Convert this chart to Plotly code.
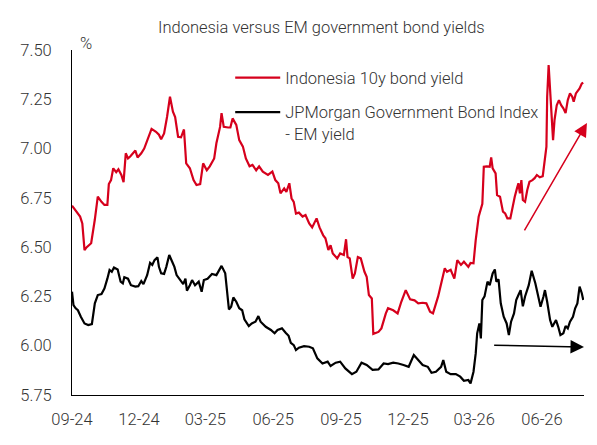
import plotly.graph_objects as go

# Indonesia 10y bond yield (%)
indo_dates = [
    "2024-09-01", "2024-09-03", "2024-09-07", "2024-09-12", "2024-09-15", "2024-09-18",
    "2024-09-21", "2024-09-27", "2024-10-02", "2024-10-06", "2024-10-11", "2024-10-15",
    "2024-10-19", "2024-10-21", "2024-10-24", "2024-10-27", "2024-10-31", "2024-11-03",
    "2024-11-07", "2024-11-10", "2024-11-13", "2024-11-16", "2024-11-19", "2024-11-23",
    "2024-11-26", "2024-11-29", "2024-12-04", "2024-12-08", "2024-12-13", "2024-12-18",
    "2024-12-24", "2024-12-28", "2024-12-31", "2025-01-04", "2025-01-08", "2025-01-12",
    "2025-01-16", "2025-01-19", "2025-01-23", "2025-01-27", "2025-01-31", "2025-02-03",
    "2025-02-08", "2025-02-13", "2025-02-17", "2025-02-22", "2025-02-26", "2025-03-03",
    "2025-03-07", "2025-03-13", "2025-03-16", "2025-03-21", "2025-03-23", "2025-03-26",
    "2025-04-01", "2025-04-04", "2025-04-07", "2025-04-12", "2025-04-16", "2025-04-21",
    "2025-04-25", "2025-04-30", "2025-05-04", "2025-05-09", "2025-05-13", "2025-05-18",
    "2025-05-25", "2025-05-31", "2025-06-04", "2025-06-08", "2025-06-11", "2025-06-16",
    "2025-06-19", "2025-06-23", "2025-06-26", "2025-06-29", "2025-07-02", "2025-07-06",
    "2025-07-11", "2025-07-15", "2025-07-20", "2025-07-24", "2025-07-30", "2025-08-03",
    "2025-08-08", "2025-08-11", "2025-08-15", "2025-08-18", "2025-08-21", "2025-08-27",
    "2025-08-31", "2025-09-05", "2025-09-08", "2025-09-10", "2025-09-13", "2025-09-17",
    "2025-09-20", "2025-09-24", "2025-09-28", "2025-10-03", "2025-10-06", "2025-10-09",
    "2025-10-13", "2025-10-15", "2025-10-22", "2025-10-26", "2025-11-01", "2025-11-04",
    "2025-11-11", "2025-11-17", "2025-11-22", "2025-11-28", "2025-12-04", "2025-12-10",
    "2025-12-15", "2025-12-21", "2025-12-26", "2025-12-31", "2026-01-04", "2026-01-11",
    "2026-01-20", "2026-01-23", "2026-01-28", "2026-02-02", "2026-02-06", "2026-02-11",
    "2026-02-15", "2026-02-21", "2026-02-24", "2026-02-28", "2026-03-03", "2026-03-07",
    "2026-03-12", "2026-03-14", "2026-03-18", "2026-03-22", "2026-03-24", "2026-03-26",
    "2026-03-30", "2026-04-01", "2026-04-05", "2026-04-09", "2026-04-12", "2026-04-15",
    "2026-04-19", "2026-04-22", "2026-04-25", "2026-04-28", "2026-04-30", "2026-05-02",
    "2026-05-04", "2026-05-06", "2026-05-09", "2026-05-12", "2026-05-15", "2026-05-19",
    "2026-05-22", "2026-05-25", "2026-05-29", "2026-06-02", "2026-06-05", "2026-06-07",
    "2026-06-08", "2026-06-10", "2026-06-12", "2026-06-14", "2026-06-16", "2026-06-18",
    "2026-06-21", "2026-06-24", "2026-06-27", "2026-06-30", "2026-07-03", "2026-07-06",
    "2026-07-09", "2026-07-12", "2026-07-14", "2026-07-17", "2026-07-22", "2026-07-25",
    "2026-07-27",
]
indo_yield = [
    6.71, 6.70, 6.68, 6.655, 6.62, 6.485,
    6.50, 6.52, 6.64, 6.756, 6.73, 6.714,
    6.714, 6.82, 6.84, 6.90, 6.88, 6.895,
    6.866, 6.83, 6.976, 6.95, 6.96, 6.976,
    6.99, 6.955, 6.976, 7.00, 7.05, 7.10,
    7.085, 7.07, 7.047, 7.077, 7.16, 7.263,
    7.187, 7.16, 7.06, 7.057, 7.097, 6.925,
    6.90, 6.84, 6.815, 6.82, 6.925, 6.89,
    6.91, 6.95, 7.027, 7.11, 7.18, 7.11,
    7.107, 7.107, 7.153, 7.12, 7.043, 7.01,
    6.95, 6.91, 6.917, 6.89, 6.91, 6.883,
    6.866, 6.883, 6.84, 6.824, 6.773, 6.798,
    6.78, 6.824, 6.748, 6.73, 6.67, 6.675,
    6.655, 6.663, 6.62, 6.60, 6.646, 6.60,
    6.56, 6.545, 6.485, 6.51, 6.468, 6.443,
    6.468, 6.46, 6.54, 6.45, 6.443, 6.34,
    6.367, 6.45, 6.443, 6.375, 6.35, 6.257,
    6.24, 6.06, 6.07, 6.088, 6.164, 6.19,
    6.18, 6.164, 6.223, 6.282, 6.235, 6.23,
    6.215, 6.218, 6.215, 6.172, 6.164, 6.25,
    6.393, 6.375, 6.385, 6.34, 6.434, 6.41,
    6.426, 6.40, 6.42, 6.418, 6.536, 6.654,
    6.72, 6.908, 6.91, 6.908, 6.955, 6.90,
    6.874, 6.764, 6.756, 6.68, 6.671, 6.646,
    6.646, 6.705, 6.756, 6.798, 6.824, 6.773,
    6.84, 6.739, 6.73, 6.79, 6.832, 6.84,
    6.85, 6.866, 6.854, 6.86, 6.94, 7.01,
    7.263, 7.424, 7.297, 7.16, 7.043, 7.145,
    7.22, 7.246, 7.22, 7.204, 7.18, 7.246,
    7.28, 7.263, 7.238, 7.28, 7.305, 7.33,
    7.334,
]

# JPMorgan GBI-EM yield (%)
em_dates = [
    "2024-09-01", "2024-09-03", "2024-09-06", "2024-09-09", "2024-09-13", "2024-09-18",
    "2024-09-23", "2024-09-28", "2024-10-02", "2024-10-06", "2024-10-11", "2024-10-15",
    "2024-10-19", "2024-10-22", "2024-10-25", "2024-10-28", "2024-11-02", "2024-11-06",
    "2024-11-09", "2024-11-11", "2024-11-16", "2024-11-20", "2024-11-26", "2024-11-30",
    "2024-12-04", "2024-12-07", "2024-12-12", "2024-12-16", "2024-12-19", "2024-12-22",
    "2024-12-26", "2024-12-28", "2024-12-31", "2025-01-04", "2025-01-07", "2025-01-11",
    "2025-01-15", "2025-01-18", "2025-01-21", "2025-01-26", "2025-01-30", "2025-02-02",
    "2025-02-04", "2025-02-08", "2025-02-11", "2025-02-15", "2025-02-20", "2025-02-24",
    "2025-02-27", "2025-03-04", "2025-03-10", "2025-03-16", "2025-03-23", "2025-03-28",
    "2025-03-31", "2025-04-02", "2025-04-05", "2025-04-08", "2025-04-12", "2025-04-16",
    "2025-04-20", "2025-04-23", "2025-04-29", "2025-05-03", "2025-05-08", "2025-05-12",
    "2025-05-15", "2025-05-22", "2025-05-29", "2025-06-03", "2025-06-07", "2025-06-13",
    "2025-06-18", "2025-06-22", "2025-06-25", "2025-06-29", "2025-07-02", "2025-07-06",
    "2025-07-13", "2025-07-20", "2025-07-25", "2025-07-31", "2025-08-07", "2025-08-14",
    "2025-08-18", "2025-08-25", "2025-08-31", "2025-09-07", "2025-09-16", "2025-09-22",
    "2025-09-29", "2025-10-06", "2025-10-14", "2025-10-22", "2025-10-29", "2025-11-04",
    "2025-11-11", "2025-11-18", "2025-11-25", "2025-12-02", "2025-12-09", "2025-12-15",
    "2025-12-21", "2025-12-28", "2026-01-02", "2026-01-08", "2026-01-15", "2026-01-18",
    "2026-01-22", "2026-01-28", "2026-02-04", "2026-02-10", "2026-02-15", "2026-02-21",
    "2026-02-24", "2026-02-28", "2026-03-03", "2026-03-05", "2026-03-08", "2026-03-10",
    "2026-03-12", "2026-03-15", "2026-03-19", "2026-03-22", "2026-03-26", "2026-03-29",
    "2026-03-31", "2026-04-03", "2026-04-06", "2026-04-10", "2026-04-14", "2026-04-17",
    "2026-04-20", "2026-04-24", "2026-04-27", "2026-04-30", "2026-05-03", "2026-05-06",
    "2026-05-09", "2026-05-14", "2026-05-18", "2026-05-23", "2026-05-26", "2026-05-30",
    "2026-06-03", "2026-06-05", "2026-06-08", "2026-06-12", "2026-06-15", "2026-06-20",
    "2026-06-23", "2026-06-26", "2026-06-30", "2026-07-03", "2026-07-06", "2026-07-09",
    "2026-07-13", "2026-07-16", "2026-07-19", "2026-07-22", "2026-07-25", "2026-07-27",
]
em_yield = [
    6.274, 6.206, 6.19, 6.18, 6.147, 6.113,
    6.105, 6.11, 6.215, 6.257, 6.262, 6.29,
    6.34, 6.384, 6.375, 6.397, 6.387, 6.325,
    6.316, 6.347, 6.34, 6.307, 6.30, 6.302,
    6.328, 6.312, 6.358, 6.42, 6.41, 6.434,
    6.448, 6.40, 6.367, 6.364, 6.40, 6.46,
    6.426, 6.40, 6.358, 6.333, 6.312, 6.34,
    6.279, 6.307, 6.333, 6.307, 6.325, 6.274,
    6.333, 6.34, 6.364, 6.358, 6.405, 6.367,
    6.274, 6.184, 6.198, 6.245, 6.223, 6.19,
    6.18, 6.134, 6.10, 6.113, 6.122, 6.15,
    6.122, 6.096, 6.08, 6.063, 6.08, 6.088,
    6.066, 6.05, 6.015, 6.003, 5.978, 5.99,
    5.998, 5.995, 5.987, 5.936, 5.91, 5.919,
    5.897, 5.914, 5.919, 5.885, 5.856, 5.868,
    5.914, 5.902, 5.877, 5.88, 5.91, 5.907,
    5.914, 5.91, 5.902, 5.893, 5.953, 5.927,
    5.902, 5.893, 5.863, 5.868, 5.893, 5.927,
    5.868, 5.856, 5.856, 5.843, 5.822, 5.826,
    5.809, 5.868, 5.961, 6.063, 6.113, 6.037,
    6.232, 6.25, 6.325, 6.307, 6.367, 6.387,
    6.325, 6.337, 6.215, 6.147, 6.113, 6.054,
    6.122, 6.164, 6.232, 6.257, 6.282, 6.20,
    6.25, 6.307, 6.38, 6.316, 6.266, 6.198,
    6.25, 6.282, 6.223, 6.13, 6.096, 6.13,
    6.096, 6.054, 6.063, 6.10, 6.088, 6.122,
    6.147, 6.19, 6.215, 6.30, 6.266, 6.232,
]

y_ticks = [5.75, 6.00, 6.25, 6.50, 6.75, 7.00, 7.25, 7.50]

RED = "#D6001C"
TXT = "#333333"
FONT = "Roboto"
FS = 16.5

fig = go.Figure()
fig.add_trace(go.Scatter(x=indo_dates, y=indo_yield, mode="lines",
                         name="Indonesia 10y bond yield", legendgroup="a",
                         line=dict(color=RED, width=2.2)))
fig.add_trace(go.Scatter(x=em_dates, y=em_yield, mode="lines",
                         name="JPMorgan Government Bond Index<br>- EM yield", legendgroup="b",
                         line=dict(color="black", width=2.2)))

# trend arrows
fig.add_annotation(x="2026-08-01", y=7.13, ax="2026-05-07", ay=6.578,
                   xref="x", yref="y", axref="x", ayref="y",
                   showarrow=True, arrowhead=2, arrowsize=1.8, arrowwidth=1.5,
                   arrowcolor=RED, text="")
fig.add_annotation(x="2026-07-28", y=5.993, ax="2026-03-26", ay=6.003,
                   xref="x", yref="y", axref="x", ayref="y",
                   showarrow=True, arrowhead=2, arrowsize=1.8, arrowwidth=1.5,
                   arrowcolor="black", text="")

fig.add_annotation(text="Indonesia versus EM government bond yields",
                   xref="paper", yref="paper", x=0.487, y=1.065,
                   xanchor="center", yanchor="middle", showarrow=False,
                   font=dict(size=FS, color=TXT, family=FONT, weight=300))
fig.add_annotation(text="%", xref="paper", yref="paper", x=0.027, y=1.02,
                   xanchor="center", yanchor="middle", showarrow=False,
                   font=dict(size=FS, color=TXT, family=FONT, weight=300))

# the page adds an 8px body margin, so the figure is sized to the rest of the window
fig.update_layout(
    width=589, height=437,
    margin=dict(l=59, r=13, t=42, b=50),
    paper_bgcolor="white", plot_bgcolor="white",
    font=dict(family=FONT, size=FS, color=TXT, weight=300),
    showlegend=True,
    legend=dict(x=0.309, y=0.97, xanchor="left", yanchor="top",
                bgcolor="rgba(0,0,0,0)", traceorder="grouped",
                tracegroupgap=10, valign="top", itemwidth=45,
                font=dict(size=FS, color=TXT, family=FONT, weight=300)),
)
fig.update_xaxes(type="date", range=["2024-09-01", "2026-07-28"],
                 tick0="2024-09-01", dtick="M3", tickformat="%m-%y",
                 showgrid=False, zeroline=False, showline=True,
                 linecolor="black", linewidth=1, ticks="",
                 ticklabelstandoff=9)
fig.update_yaxes(range=[5.75, 7.5], tickvals=y_ticks, tickformat=".2f",
                 showgrid=False, zeroline=False, showline=True,
                 linecolor="black", linewidth=1, ticks="",
                 ticklabelstandoff=16)

fig.write_html("out.html")
